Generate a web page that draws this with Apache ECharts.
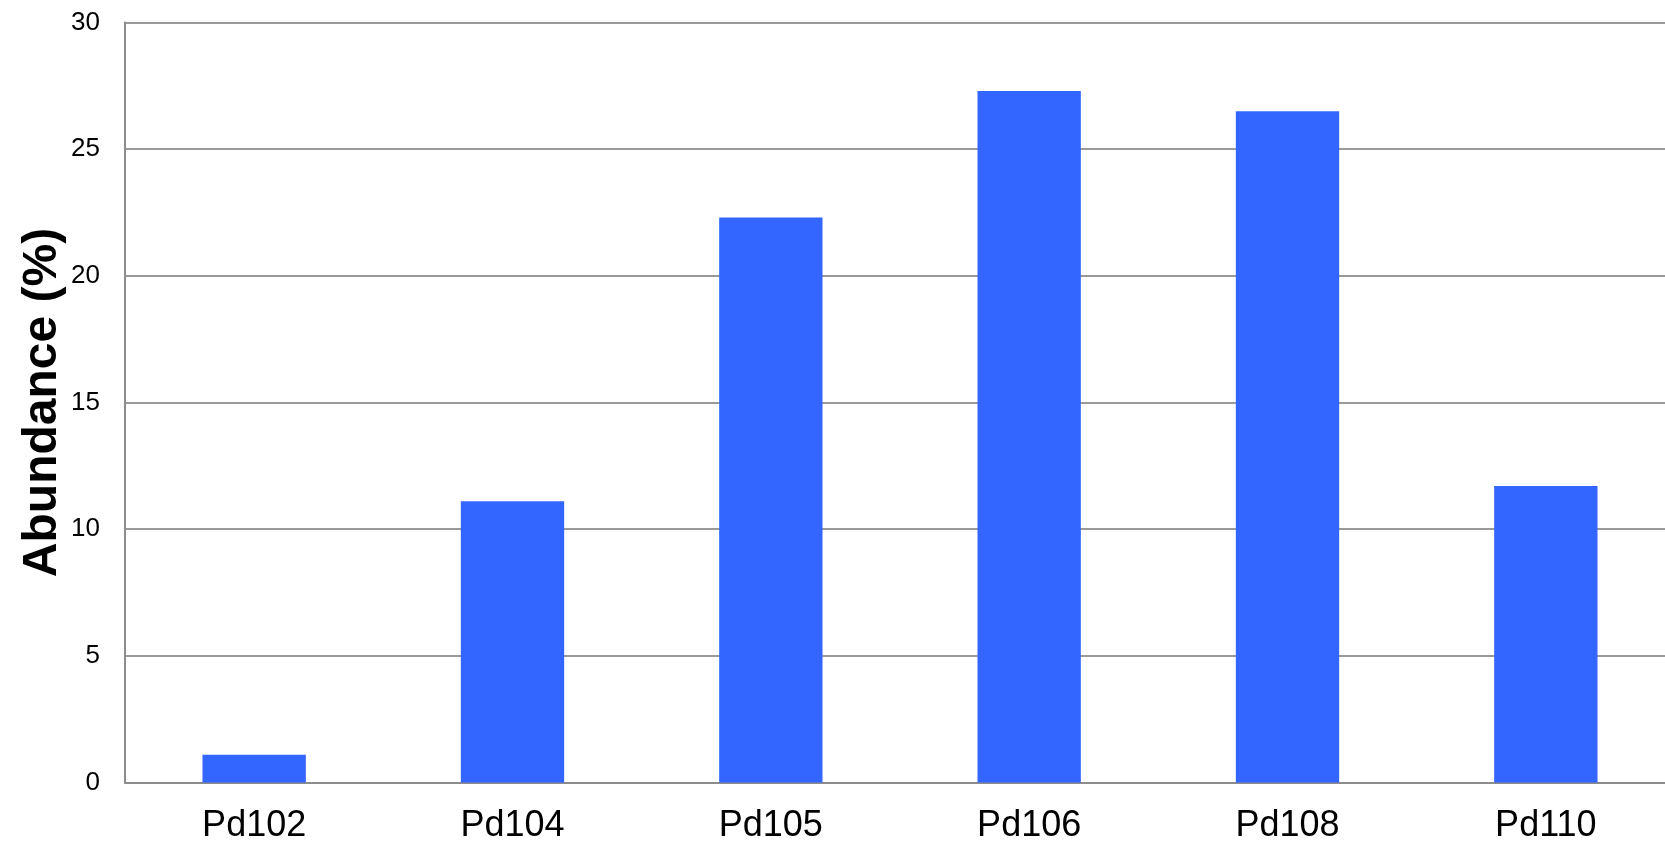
<!DOCTYPE html>
<html>
<head>
<meta charset="utf-8">
<script src="https://cdn.jsdelivr.net/npm/echarts@6/dist/echarts.min.js"></script>
<style>
  html, body { margin: 0; padding: 0; background: #ffffff; overflow: hidden; }
  /* plot area runs slightly past the right edge of the window */
  #chart { width: 1675px; height: 847px; }
</style>
</head>
<body>
<div id="chart"></div>
<script>
// Palladium isotope natural abundances
const isotopes = ['Pd102', 'Pd104', 'Pd105', 'Pd106', 'Pd108', 'Pd110'];
const abundance = [1.1, 11.1, 22.3, 27.3, 26.5, 11.7];
const yTicks = { min: 0, max: 30, interval: 5 };
const yTitle = 'Abundance (%)';

const chart = echarts.init(document.getElementById('chart'), null, { renderer: 'canvas' });

chart.setOption({
  backgroundColor: '#ffffff',
  animation: false,
  grid: { left: 125, top: 22.5, right: 0, height: 760, containLabel: false },
  xAxis: {
    type: 'category',
    data: isotopes,
    axisLine: { show: true, lineStyle: { color: '#8c8c8c', width: 2 } },
    axisTick: { show: false },
    axisLabel: {
      color: '#000000',
      fontFamily: 'Liberation Sans, Arial, sans-serif',
      fontSize: 36,
      margin: 26
    },
    splitLine: { show: false }
  },
  yAxis: {
    type: 'value',
    min: yTicks.min,
    max: yTicks.max,
    interval: yTicks.interval,
    name: yTitle,
    nameLocation: 'middle',
    nameGap: 58,
    nameRotate: 90,
    nameMoveOverlap: false,
    nameTextStyle: {
      color: '#000000',
      fontFamily: 'Liberation Sans, Arial, sans-serif',
      fontSize: 48,
      fontWeight: 'bold'
    },
    axisLine: { show: true, lineStyle: { color: '#8c8c8c', width: 2 } },
    axisTick: { show: false },
    axisLabel: {
      color: '#000000',
      fontFamily: 'Liberation Sans, Arial, sans-serif',
      fontSize: 26,
      margin: 25
    },
    splitLine: { show: true, lineStyle: { color: '#999999', width: 2 } }
  },
  series: [{
    type: 'bar',
    data: abundance,
    barWidth: '40%',
    itemStyle: { color: '#3366ff' }
  }]
});
</script>
</body>
</html>
